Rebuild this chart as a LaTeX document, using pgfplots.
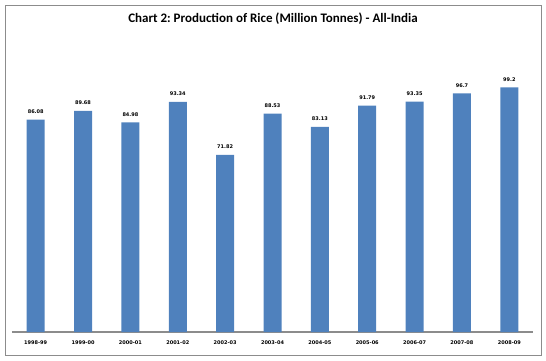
\documentclass[border=0pt]{standalone}
\usepackage{pgfplots}
\pgfplotsset{compat=1.18}
\usepackage{fontspec}
\setmainfont{Carlito}
\newfontfamily\lblfont{DejaVu Sans}
\definecolor{barblue}{HTML}{4F81BD}
\definecolor{framegray}{HTML}{8C8C8C}
\frenchspacing
\begin{document}
\begin{tikzpicture}
\useasboundingbox (0pt,0pt) rectangle (546pt,360pt);
\draw[color=framegray, line width=1pt] (5pt,5pt) rectangle (541pt,355pt);
\node[font=\bfseries\fontsize{13}{15}\selectfont] at (273pt,341pt) {Chart 2: Production of Rice (Million Tonnes) - All-India};
\begin{axis}[
  at={(12pt,28pt)}, anchor=south west,
  width=521pt, height=296pt, scale only axis,
  xmin=-0.5, xmax=10.5, ymin=0, ymax=120,
  enlarge x limits=false, enlarge y limits=false,
  axis x line=bottom, axis y line=none,
  x axis line style={-, color=framegray, line width=1.5pt},
  ytick=\empty,
  xtick=data,
  xticklabels={1998-99,1999-00,2000-01,2001-02,2002-03,2003-04,2004-05,2005-06,2006-07,2007-08,2008-09},
  major tick length=0pt,
  xticklabel style={font=\lblfont\bfseries\fontsize{5}{6}\selectfont, anchor=center, yshift=-11pt},
  ybar, bar width=18pt, bar shift=0pt,
  point meta=explicit symbolic,
  nodes near coords,
  nodes near coords style={font=\lblfont\bfseries\fontsize{5}{6}\selectfont, anchor=center, yshift=8pt, color=black},
  clip=false,
]
\addplot[fill=barblue, draw=none] coordinates {
 (0,86.08) [86.08]
 (1,89.68) [89.68]
 (2,84.98) [84.98]
 (3,93.34) [93.34]
 (4,71.82) [71.82]
 (5,88.53) [88.53]
 (6,83.13) [83.13]
 (7,91.79) [91.79]
 (8,93.35) [93.35]
 (9,96.7) [96.7]
 (10,99.2) [99.2]
};
\end{axis}
\end{tikzpicture}
\end{document}
